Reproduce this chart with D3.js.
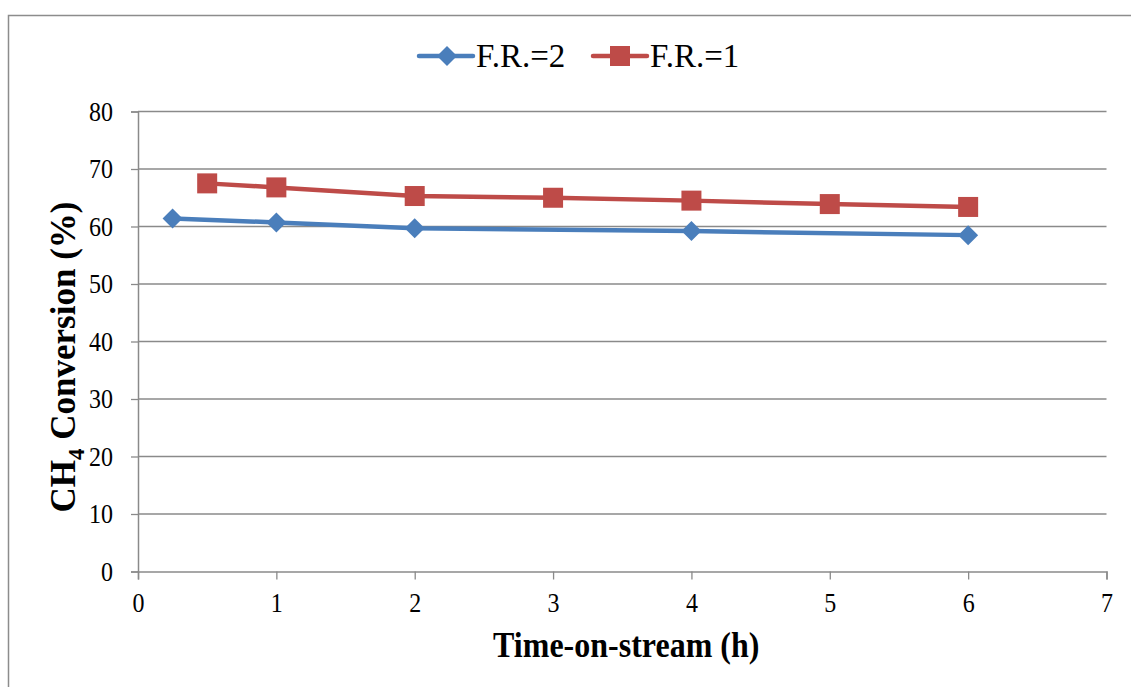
<!DOCTYPE html>
<html>
<head>
<meta charset="utf-8">
<script src="https://cdn.jsdelivr.net/npm/d3@7"></script>
<style>
  html, body { margin: 0; padding: 0; background: #fff; }
  svg { display: block; }
  text { font-family: "Liberation Serif", "Times New Roman", serif; fill: #000; }
</style>
</head>
<body>
<script>
// Time-on-stream (h) and CH4 conversion (%) for two feed ratios
const timeFR2 = [0.25, 1, 2, 4, 6];
const convFR2 = [61.4, 60.7, 59.7, 59.2, 58.5];
const timeFR1 = [0.5, 1, 2, 3, 4, 5, 6];
const convFR1 = [67.5, 66.8, 65.3, 65.0, 64.5, 63.9, 63.4];
const xTicks = [0, 1, 2, 3, 4, 5, 6, 7];
const yTicks = [0, 10, 20, 30, 40, 50, 60, 70, 80];
const seriesNames = ["F.R.=2", "F.R.=1"];

const W = 1131, H = 687;
const svg = d3.select("body").append("svg").attr("width", W).attr("height", H);

// outer chart frame
svg.append("rect").attr("x", 8.5).attr("y", 15.5).attr("width", 1140).attr("height", 700)
  .attr("fill", "none").attr("stroke", "#8c8c8c").attr("stroke-width", 1.5);

const x = d3.scaleLinear().domain([0, 7]).range([138, 1106.5]);
const y = d3.scaleLinear().domain([0, 80]).range([571.5, 111.5]);
const gridCol = "#8a8a8a";

// horizontal gridlines
svg.append("g").selectAll("line").data(yTicks.filter(d => d > 0)).join("line")
  .attr("x1", x(0)).attr("x2", x(7))
  .attr("y1", d => y(d)).attr("y2", d => y(d))
  .attr("stroke", gridCol).attr("stroke-width", 1.3);

// y axis
const yAxis = svg.append("g").attr("transform", `translate(${x(0)},0)`)
  .call(d3.axisLeft(y).tickValues(yTicks).tickSize(7).tickPadding(18).tickFormat(d3.format("d")));
yAxis.select(".domain").attr("stroke", gridCol).attr("stroke-width", 1.5);
yAxis.selectAll(".tick line").attr("stroke", gridCol).attr("stroke-width", 1.3);
yAxis.selectAll("text")
  .style("font-family", "Liberation Serif").style("font-size", "24px").attr("fill", "#000")
  .attr("dy", "0.34em").attr("transform", "translate(-25,0) scale(1,1.1) translate(25,0)");

// x axis
const xAxis = svg.append("g").attr("transform", `translate(0,${y(0)})`)
  .call(d3.axisBottom(x).tickValues(xTicks).tickSize(8).tickFormat(d3.format("d")));
xAxis.select(".domain").attr("stroke", gridCol).attr("stroke-width", 1.5);
xAxis.selectAll(".tick line").attr("stroke", gridCol).attr("stroke-width", 1.3);
xAxis.selectAll("text")
  .style("font-family", "Liberation Serif").style("font-size", "24px").attr("fill", "#000")
  .attr("y", 0).attr("dy", null)
  .attr("transform", "translate(0,40.5) scale(1,1.1)");

// axis titles
svg.append("text").attr("transform", `translate(${(x(0) + x(7)) / 2 + 4},657) scale(1,1.12)`)
  .attr("text-anchor", "middle").style("font-size", "32px").style("font-weight", "bold")
  .text("Time-on-stream (h)");

const yt = svg.append("text").attr("transform", "translate(75,357) rotate(-90)")
  .attr("text-anchor", "middle").style("font-size", "35px").style("font-weight", "bold");
yt.append("tspan").text("CH");
yt.append("tspan").attr("dy", 9).style("font-size", "23px").text("4");
yt.append("tspan").attr("dy", -9).text(" Conversion (%)");

const blue = "#4A7EBB", red = "#BE4B48";
const line = d3.line().x(d => x(d[0])).y(d => y(d[1]));

const fr2 = timeFR2.map((t, i) => [t, convFR2[i]]);
const fr1 = timeFR1.map((t, i) => [t, convFR1[i]]);

svg.append("path").datum(fr2).attr("d", line).attr("fill", "none")
  .attr("stroke", blue).attr("stroke-width", 4.5).attr("stroke-linejoin", "round");
svg.append("path").datum(fr1).attr("d", line).attr("fill", "none")
  .attr("stroke", red).attr("stroke-width", 4.5).attr("stroke-linejoin", "round");

const diamond = (cx, cy, r) => `M${cx},${cy - r}L${cx + r},${cy}L${cx},${cy + r}L${cx - r},${cy}Z`;

svg.append("g").selectAll("path").data(fr2).join("path")
  .attr("d", d => diamond(x(d[0]), y(d[1]), 10)).attr("fill", blue);
svg.append("g").selectAll("rect").data(fr1).join("rect")
  .attr("x", d => x(d[0]) - 10).attr("y", d => y(d[1]) - 10)
  .attr("width", 20).attr("height", 20).attr("fill", red);

// legend
const leg = svg.append("g");
const items = [
  { name: seriesNames[0], col: blue, x0: 419, shape: "diamond" },
  { name: seriesNames[1], col: red, x0: 593, shape: "square" }
];
items.forEach(it => {
  const cy = 56;
  leg.append("line").attr("x1", it.x0).attr("x2", it.x0 + 54).attr("y1", cy).attr("y2", cy)
    .attr("stroke", it.col).attr("stroke-width", 4.5).attr("stroke-linecap", "round");
  const cx = it.x0 + 27;
  if (it.shape === "diamond") {
    leg.append("path").attr("d", diamond(cx + 1, cy, 10)).attr("fill", it.col);
  } else {
    leg.append("rect").attr("x", cx - 10).attr("y", cy - 10).attr("width", 20).attr("height", 20).attr("fill", it.col);
  }
  leg.append("text").attr("x", it.x0 + 57).attr("y", cy + 11).style("font-size", "33px").text(it.name);
});
</script>
</body>
</html>
